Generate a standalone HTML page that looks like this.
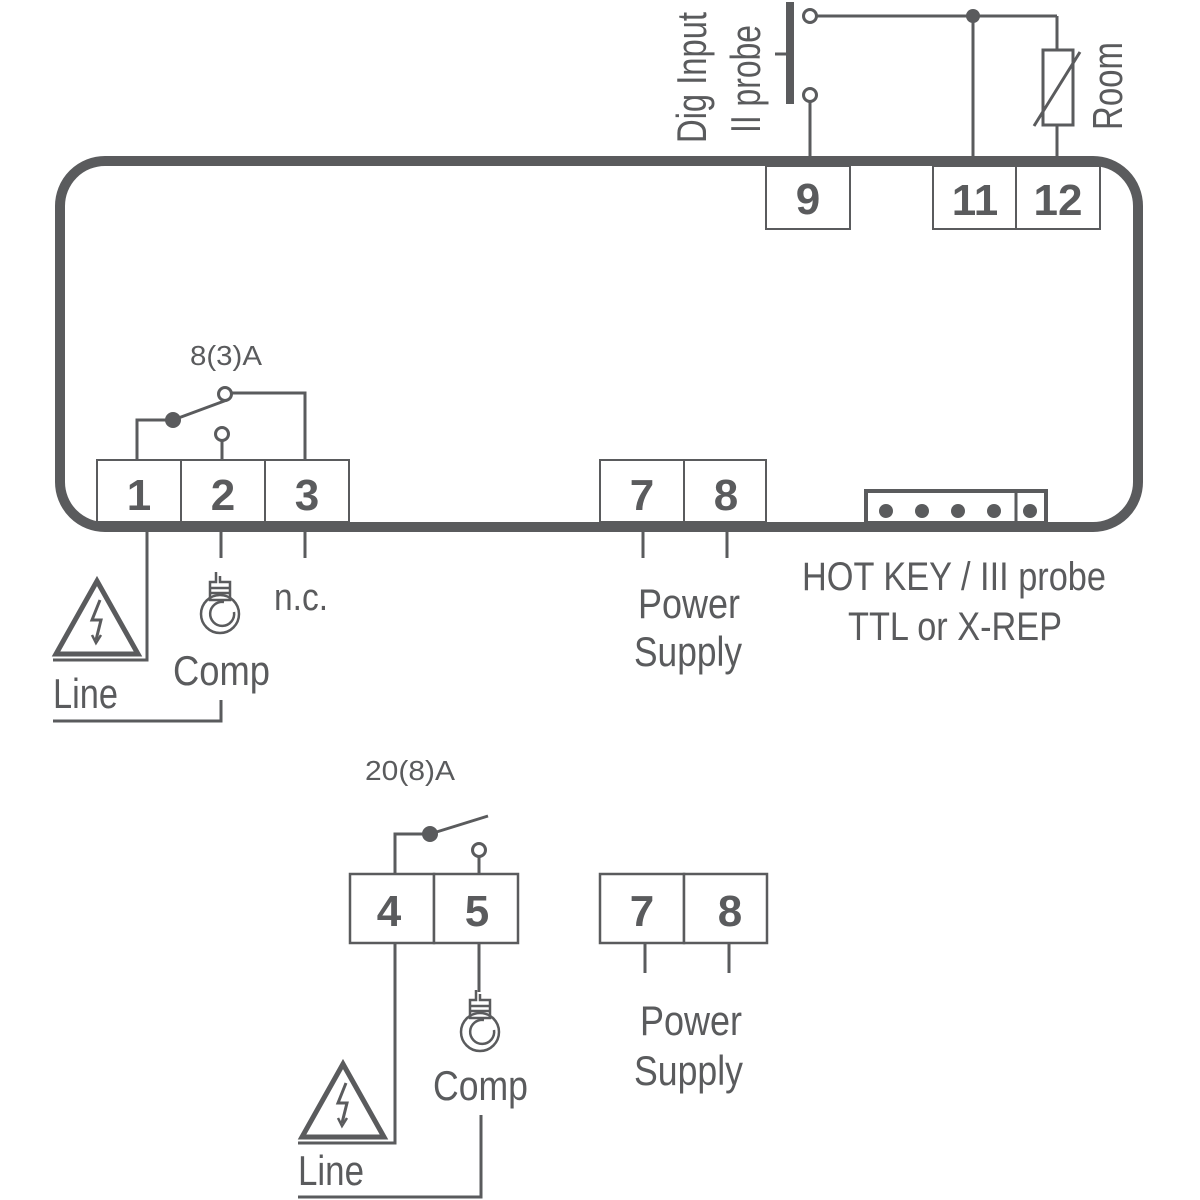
<!DOCTYPE html>
<html><head><meta charset="utf-8"><style>html,body{margin:0;padding:0;background:#fff}svg{display:block}</style></head>
<body>
<svg width="1200" height="1200" viewBox="0 0 1200 1200" xmlns="http://www.w3.org/2000/svg" font-family="Liberation Sans, sans-serif" fill="none" stroke="#5a5b5d">
<defs>
<g id="comp" stroke-width="2.5">
<path d="M-4,0 v10 h-6 v18 h20 v-18 h-10 v-6"/>
<circle cx="0" cy="42" r="19"/>
<path d="M4,30 a12,12 0 1 0 10,10"/>
<line x1="-10" y1="16" x2="10" y2="16"/><line x1="-10" y1="21" x2="10" y2="21"/>
</g>
<g id="warn">
<path d="M0,-37 L41,36 L-41,36 Z" stroke-width="5" stroke-linejoin="miter"/>
<path d="M3,-18 L-5,2 L4,2 L-1,22" stroke-width="3"/>
<path d="M-5,17 L-1,25 L4,17" stroke-width="2.5"/>
</g>
</defs>
<!-- main housing -->
<rect x="60" y="161" width="1078" height="366" rx="45" ry="45" stroke-width="10"/>
<!-- top terminals -->
<g stroke-width="2" fill="#fff">
<rect x="766" y="166" width="84" height="63"/>
<rect x="933" y="166" width="83" height="63"/>
<rect x="1016" y="166" width="84" height="63"/>
<!-- bottom terminals in housing -->
<rect x="97" y="460" width="84" height="62"/>
<rect x="181" y="460" width="84" height="62"/>
<rect x="265" y="460" width="84" height="62"/>
<rect x="600" y="460" width="84" height="62"/>
<rect x="684" y="460" width="82" height="62"/>
</g>
<rect x="866" y="491" width="180" height="32" stroke-width="4" fill="#fff"/>
<line x1="1016" y1="491" x2="1016" y2="523" stroke-width="3"/>
<g fill="#5a5b5d" stroke="none">
<circle cx="886" cy="511" r="7"/><circle cx="922" cy="511" r="7"/><circle cx="958" cy="511" r="7"/><circle cx="994" cy="511" r="7"/><circle cx="1030" cy="511" r="7"/>
</g>
<!-- top wiring -->
<g stroke-width="3">
<line x1="810" y1="161" x2="810" y2="102"/>
<circle cx="810" cy="95" r="6.5" fill="#fff"/>
<circle cx="810" cy="16" r="6.5" fill="#fff"/>
<line x1="817" y1="16" x2="1057" y2="16"/>
<line x1="973" y1="16" x2="973" y2="161"/>
<line x1="1057" y1="16" x2="1057" y2="50"/>
<rect x="1043" y="50" width="30" height="75"/>
<line x1="1057" y1="125" x2="1057" y2="161"/>
<line x1="1034" y1="126" x2="1080" y2="52"/>
<line x1="775" y1="54" x2="790" y2="54"/>
</g>
<rect x="786" y="2" width="8" height="102" fill="#5a5b5d" stroke="none"/>
<circle cx="973" cy="16" r="7" fill="#5a5b5d" stroke="none"/>
<!-- relay 1-3 -->
<g stroke-width="3">
<polyline points="137,460 137,420 173,420"/>
<line x1="173" y1="420" x2="227" y2="400"/>
<circle cx="225" cy="394" r="6.5" fill="#fff"/>
<polyline points="231,393 305,393 305,460"/>
<circle cx="222" cy="434" r="6.5" fill="#fff"/>
<line x1="222" y1="441" x2="222" y2="460"/>
</g>
<circle cx="173" cy="420" r="8" fill="#5a5b5d" stroke="none"/>
<!-- below housing wires -->
<g stroke-width="3">
<polyline points="147,530 147,660 53,660"/>
<polyline points="53,721 221,721 221,700"/>
<line x1="221" y1="530" x2="221" y2="558"/>
<line x1="305" y1="530" x2="305" y2="558"/>
<line x1="643" y1="530" x2="643" y2="558"/>
<line x1="727" y1="530" x2="727" y2="558"/>
</g>
<use href="#warn" x="97" y="618"/>
<use href="#comp" x="220" y="572"/>
<!-- bottom section -->
<g stroke-width="2.5" fill="#fff">
<rect x="350" y="874" width="84" height="69"/>
<rect x="434" y="874" width="84" height="69"/>
<rect x="600" y="874" width="84" height="69"/>
<rect x="684" y="874" width="83" height="69"/>
</g>
<g stroke-width="3">
<polyline points="395,874 395,834 430,834"/>
<line x1="430" y1="834" x2="488" y2="816"/>
<circle cx="479" cy="850" r="6.5" fill="#fff"/>
<line x1="479" y1="857" x2="479" y2="874"/>
<polyline points="395,943 395,1143 298,1143"/>
<line x1="479" y1="943" x2="479" y2="992"/>
<polyline points="481,1115 481,1197 298,1197"/>
<line x1="645" y1="943" x2="645" y2="973"/>
<line x1="729" y1="943" x2="729" y2="973"/>
</g>
<circle cx="430" cy="834" r="8" fill="#5a5b5d" stroke="none"/>
<use href="#warn" x="343" y="1101"/>
<use href="#comp" x="480" y="990"/>
<!-- terminal numbers -->
<g fill="#5a5b5d" stroke="none" font-weight="bold" font-size="44" text-anchor="middle">
<text x="808" y="214">9</text>
<text x="975" y="215">11</text>
<text x="1058" y="215">12</text>
<text x="139" y="510">1</text>
<text x="223" y="510">2</text>
<text x="307" y="510">3</text>
<text x="642" y="510">7</text>
<text x="726" y="510">8</text>
<text x="389" y="926">4</text>
<text x="477" y="926">5</text>
<text x="642" y="926">7</text>
<text x="730" y="926">8</text>
</g>
<!-- labels -->
<g fill="#5a5b5d" stroke="none" lengthAdjust="spacingAndGlyphs">
<text transform="translate(706,143) rotate(-90)" font-size="42" textLength="131" lengthAdjust="spacingAndGlyphs">Dig Input</text>
<text transform="translate(760,133) rotate(-90)" font-size="42" textLength="108" lengthAdjust="spacingAndGlyphs">II probe</text>
<text transform="translate(1122,130) rotate(-90)" font-size="42" textLength="88" lengthAdjust="spacingAndGlyphs">Room</text>
<text x="190" y="365" font-size="28" textLength="72" lengthAdjust="spacingAndGlyphs">8(3)A</text>
<text x="274" y="610" font-size="38" textLength="54" lengthAdjust="spacingAndGlyphs">n.c.</text>
<text x="173" y="685" font-size="42" textLength="97" lengthAdjust="spacingAndGlyphs">Comp</text>
<text x="53" y="708" font-size="42" textLength="65" lengthAdjust="spacingAndGlyphs">Line</text>
<text x="638" y="618" font-size="42" textLength="102" lengthAdjust="spacingAndGlyphs">Power</text>
<text x="634" y="666" font-size="42" textLength="108" lengthAdjust="spacingAndGlyphs">Supply</text>
<text x="802" y="590" font-size="40" textLength="304" lengthAdjust="spacingAndGlyphs">HOT KEY / III probe</text>
<text x="848" y="640" font-size="40" textLength="214" lengthAdjust="spacingAndGlyphs">TTL or X-REP</text>
<text x="365" y="780" font-size="28" textLength="90" lengthAdjust="spacingAndGlyphs">20(8)A</text>
<text x="433" y="1100" font-size="42" textLength="95" lengthAdjust="spacingAndGlyphs">Comp</text>
<text x="298" y="1185" font-size="42" textLength="66" lengthAdjust="spacingAndGlyphs">Line</text>
<text x="640" y="1035" font-size="42" textLength="102" lengthAdjust="spacingAndGlyphs">Power</text>
<text x="634" y="1085" font-size="42" textLength="109" lengthAdjust="spacingAndGlyphs">Supply</text>
</g>
</svg>
</body></html>
